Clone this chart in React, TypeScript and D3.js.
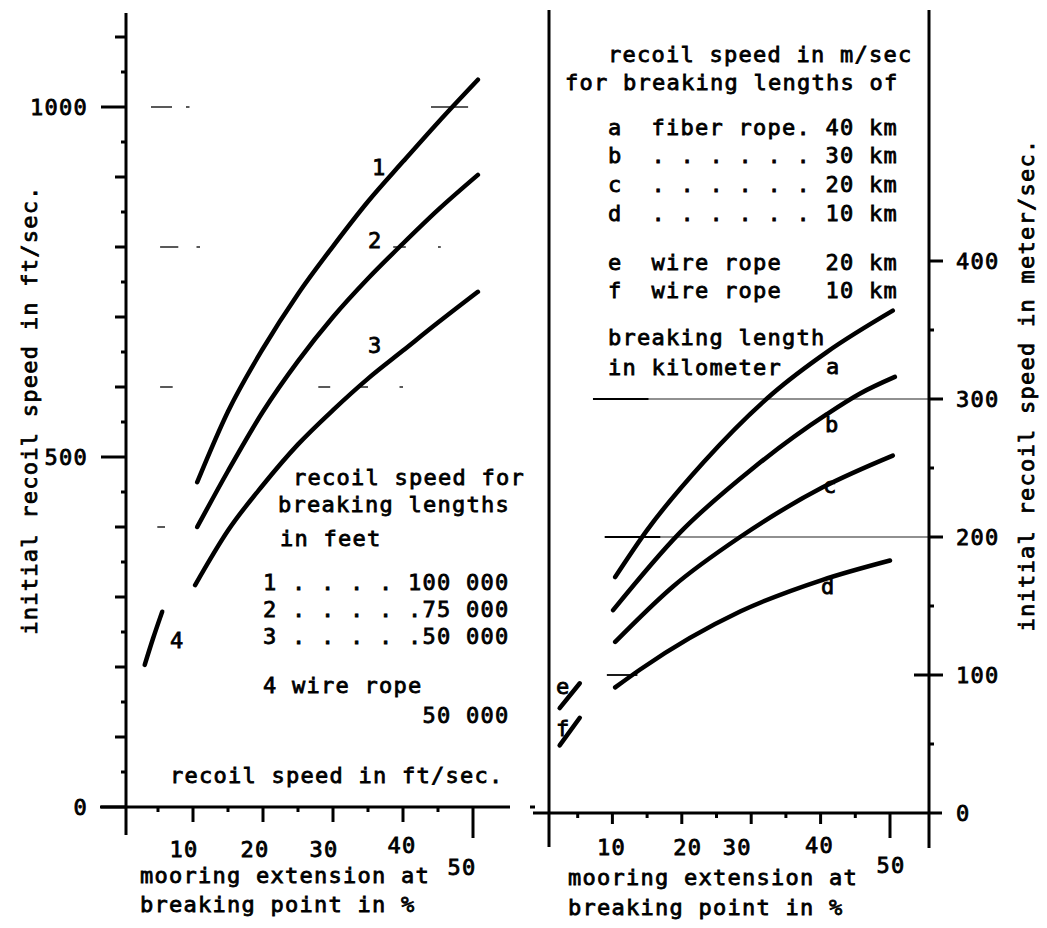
import React from "react";
import * as d3 from "d3";

// ---------- data ----------
const leftTickValuesY = d3.range(0, 1101, 50);
const leftLabelsY = [0, 500, 1000];
const xTickValues = d3.range(5, 51, 5);
const xTickLabels = [10, 20, 30, 40, 50];

const curve1X = [10.6, 15, 20, 25, 30, 35, 40, 45, 50.7];
const curve1Y = [464, 565, 655, 733, 801, 865, 922, 978, 1039];
const curve2X = [10.6, 15, 20, 25, 30, 35, 40, 45, 50.7];
const curve2Y = [400, 480, 565, 637, 700, 755, 805, 853, 903];
const curve3X = [10.3, 15, 20, 25, 30, 35, 40, 45, 50.7];
const curve3Y = [317, 395, 460, 518, 567, 612, 652, 692, 736];
const curve4X = [3.1, 4.3, 5.6];
const curve4Y = [203, 241, 279];

const rightTickValuesY = d3.range(0, 401, 50);
const rightLabelsY = [0, 100, 200, 300, 400];

const curveAX = [10.4, 15.0, 23.1, 33.1, 40.9, 50.4];
const curveAY = [171, 205, 254, 304, 334, 364];
const curveBX = [10.1, 19.7, 30.3, 40.9, 45.7, 50.7];
const curveBY = [147, 203, 250, 289, 304, 316];
const curveCX = [10.4, 18.7, 28.4, 40.3, 50.4];
const curveCY = [124, 164, 200, 236, 259];
const curveDX = [10.4, 14.0, 28.4, 40.3, 50.0];
const curveDY = [91, 104, 146, 169, 183];
const curveEX = [2.4, 5.3];
const curveEY = [76, 94];
const curveFX = [2.4, 5.3];
const curveFY = [49, 69];

// faint grid remnants (value, from %, to %)
const leftGridBits: [number, number, number][] = [
  [1000, 4, 7], [1000, 9.0, 9.5], [1000, 44, 49.3],
  [800, 5.3, 7.9], [800, 10.5, 11], [800, 38.6, 40.4], [800, 45, 45.4],
  [600, 5.3, 7.1], [600, 27.9, 29.6], [600, 33.4, 35], [600, 39.5, 40],
  [400, 4.9, 6],
];
const rightGrid: [number, number][] = [[300, 7.2], [200, 8.9]];
const rightGridShort: [number, number, number][] = [[100, 9.2, 13.6]];

const leftLegend = [
  "recoil speed for",
  "breaking lengths",
  "in feet",
  "1 . . . . 100 000",
  "2 . . . . .75 000",
  "3 . . . . .50 000",
  "4 wire rope",
  "           50 000",
];
const rightLegend = [
  "recoil speed in m/sec",
  "for breaking lengths of",
  "a  fiber rope. 40 km",
  "b  . . . . . . 30 km",
  "c  . . . . . . 20 km",
  "d  . . . . . . 10 km",
  "e  wire rope   20 km",
  "f  wire rope   10 km",
  "breaking length",
  "in kilometer",
];

// ---------- layout ----------
const FONT = "'DejaVu Sans Mono', monospace";
const FS = 22;
const LS = 1.26;

const xL = d3.scaleLinear().domain([0, 55]).range([123, 508]);
const yL = d3.scaleLinear().domain([0, 1000]).range([807, 107]);
const xR = d3.scaleLinear().domain([0, 50]).range([543, 890]);
const yR = d3.scaleLinear().domain([0, 400]).range([813, 261]);

const leftLabelDx = [-9, -8, -9, -1, -11];
const leftLabelBase = [857, 857, 857, 853, 875];
const rightLabelDx = [-1, 6, -14, -1, 1];
const rightLabelBase = [855, 855, 855, 853, 873];

const leftLegendPos: [number, number][] = [
  [293, 485], [278, 512], [280, 546], [263, 590], [263, 617], [263, 644], [263, 693], [263, 723],
];
const rightLegendPos: [number, number][] = [
  [608, 62], [565, 90], [608, 135], [608, 163], [608, 192], [608, 221], [608, 270], [608, 298], [608, 345], [608, 375],
];

function T(props: any) {
  const { children, ...rest } = props;
  return (
    <text
      fontFamily={FONT}
      fontSize={FS}
      letterSpacing={LS}
      fill="#000"
      stroke="#000"
      strokeWidth={0.8}
      style={{ whiteSpace: "pre" }}
      xmlSpace="preserve"
      {...rest}
    >
      {children}
    </text>
  );
}

function pathOf(xs: number[], ys: number[], xs_: any, ys_: any) {
  const line = d3
    .line<number>()
    .x((_, i) => xs_(xs[i]))
    .y((_, i) => ys_(ys[i]))
    .curve(d3.curveMonotoneX);
  return line(ys) || "";
}

export default function App() {
  const axisW = 3;
  const curveW = 4.5;
  const leftAxisX = 126;
  const rLeftAxisX = 549;
  const rRightAxisX = 929;

  const leftCurves = [
    [curve1X, curve1Y],
    [curve2X, curve2Y],
    [curve3X, curve3Y],
    [curve4X, curve4Y],
  ];
  const rightCurves = [
    [curveAX, curveAY],
    [curveBX, curveBY],
    [curveCX, curveCY],
    [curveDX, curveDY],
    [curveEX, curveEY],
    [curveFX, curveFY],
  ];

  return (
    <svg
      width={1047}
      height={928}
      style={{ position: "absolute", left: 0, top: 0, background: "#fff" }}
    >
      <rect x={0} y={0} width={1047} height={928} fill="#fff" />

      {/* ================= LEFT PANEL ================= */}
      {leftGridBits.map(([v, a, b], i) => (
        <line key={"lg" + i} x1={xL(a)} x2={xL(b)} y1={yL(v)} y2={yL(v)} stroke="#222" strokeWidth={1.5} />
      ))}
      <line x1={leftAxisX} x2={leftAxisX} y1={13} y2={835} stroke="#000" strokeWidth={axisW} />
      {leftTickValuesY.map((v) => {
        const len = v % 500 === 0 ? 25 : v % 100 === 0 ? 11 : 5;
        return (
          <line key={"lyt" + v} x1={leftAxisX - len} x2={leftAxisX} y1={yL(v)} y2={yL(v)} stroke="#000" strokeWidth={axisW} />
        );
      })}
      {leftLabelsY.map((v) => (
        <T key={"lyl" + v} x={88} y={yL(v) + 8} textAnchor="end">
          {String(v)}
        </T>
      ))}
      <line x1={100} x2={510} y1={yL(0)} y2={yL(0)} stroke="#000" strokeWidth={axisW} />
      <line x1={530} x2={535} y1={yL(0)} y2={yL(0)} stroke="#000" strokeWidth={3} />
      {xTickValues.map((v) => {
        const len = v === 50 ? 31 : v % 10 === 0 ? 15 : 5;
        return (
          <line key={"lxt" + v} x1={xL(v)} x2={xL(v)} y1={yL(0)} y2={yL(0) + len} stroke="#000" strokeWidth={axisW} />
        );
      })}
      {xTickLabels.map((v, i) => (
        <T key={"lxl" + v} x={xL(v) + leftLabelDx[i]} y={leftLabelBase[i]} textAnchor="middle">
          {String(v)}
        </T>
      ))}
      <T x={140} y={883}>mooring extension at</T>
      <T x={140} y={912}>breaking point in %</T>
      <T x={0} y={0} transform="translate(37,410) rotate(-90)" textAnchor="middle">
        initial recoil speed in ft/sec.
      </T>
      <T x={170} y={783}>recoil speed in ft/sec.</T>

      {leftCurves.map(([xs, ys], i) => (
        <path
          key={"lc" + i}
          d={pathOf(xs as number[], ys as number[], xL, yL)}
          fill="none"
          stroke="#000"
          strokeWidth={curveW}
          strokeLinecap="round"
        />
      ))}
      <T x={372} y={175}>1</T>
      <T x={368} y={248}>2</T>
      <T x={368} y={353}>3</T>
      <T x={170} y={648}>4</T>

      {leftLegend.map((s, i) => (
        <T key={"ll" + i} x={leftLegendPos[i][0]} y={leftLegendPos[i][1]}>
          {s}
        </T>
      ))}

      {/* ================= RIGHT PANEL ================= */}
      {rightGrid.map(([v, a]) => (
        <line key={"rg" + v} x1={xR(a)} x2={rRightAxisX} y1={yR(v)} y2={yR(v)} stroke="#222" strokeWidth={1.2} />
      ))}
      {rightGrid.map(([v, a]) => (
        <line key={"rgb" + v} x1={xR(a)} x2={xR(a + 8)} y1={yR(v)} y2={yR(v)} stroke="#000" strokeWidth={1.8} />
      ))}
      {rightGridShort.map(([v, a, b]) => (
        <line key={"rgs" + v} x1={xR(a)} x2={xR(b)} y1={yR(v)} y2={yR(v)} stroke="#000" strokeWidth={1.8} />
      ))}
      <line x1={rLeftAxisX} x2={rLeftAxisX} y1={10} y2={847} stroke="#000" strokeWidth={axisW} />
      <line x1={rRightAxisX} x2={rRightAxisX} y1={10} y2={848} stroke="#000" strokeWidth={axisW} />
      <line x1={533} x2={942} y1={yR(0)} y2={yR(0)} stroke="#000" strokeWidth={axisW} />
      {xTickValues.map((v) => {
        const len = v === 50 ? 25 : v % 10 === 0 ? 11 : 5;
        return (
          <line key={"rxt" + v} x1={xR(v)} x2={xR(v)} y1={yR(0)} y2={yR(0) + len} stroke="#000" strokeWidth={axisW} />
        );
      })}
      {rightTickValuesY.filter((v) => v > 0).map((v) => {
        const right = v % 100 === 0 ? 14 : 5;
        const left = v === 100 ? 15 : 0;
        return (
          <line key={"ryt" + v} x1={rRightAxisX - left} x2={rRightAxisX + right} y1={yR(v)} y2={yR(v)} stroke="#000" strokeWidth={axisW} />
        );
      })}
      {rightLabelsY.map((v) => (
        <T key={"ryl" + v} x={956} y={yR(v) + 8}>
          {String(v)}
        </T>
      ))}
      {xTickLabels.map((v, i) => (
        <T key={"rxl" + v} x={xR(v) + rightLabelDx[i]} y={rightLabelBase[i]} textAnchor="middle">
          {String(v)}
        </T>
      ))}
      <T x={568} y={885}>mooring extension at</T>
      <T x={568} y={915}>breaking point in %</T>
      <T x={0} y={0} transform="translate(1034,385) rotate(-90)" textAnchor="middle">
        initial recoil speed in meter/sec.
      </T>

      {rightCurves.map(([xs, ys], i) => (
        <path
          key={"rc" + i}
          d={pathOf(xs as number[], ys as number[], xR, yR)}
          fill="none"
          stroke="#000"
          strokeWidth={curveW}
          strokeLinecap="round"
        />
      ))}
      {rightLegend.map((s, i) => (
        <T key={"rl" + i} x={rightLegendPos[i][0]} y={rightLegendPos[i][1]}>
          {s}
        </T>
      ))}
      <T x={826} y={374}>a</T>
      <T x={825} y={432}>b</T>
      <T x={823} y={493}>c</T>
      <T x={821} y={594}>d</T>
      <T x={556} y={694}>e</T>
      <T x={556} y={736}>f</T>
    </svg>
  );
}
